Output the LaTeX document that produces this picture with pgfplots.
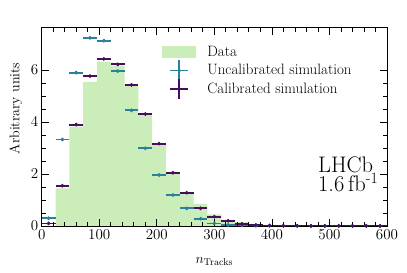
\RequirePackage{fix-cm}
\documentclass[border=0pt]{standalone}
\usepackage{pgfplots}
\pgfplotsset{compat=1.18}
\usepackage{pgfplotstable}

\definecolor{dgreen}{HTML}{CAEDB9}
\definecolor{uncal}{HTML}{2A819C}
\definecolor{cal}{HTML}{470D5E}

\pgfplotstableread{
x y
0 0.00
24 1.45
48 3.82
72 5.55
96 6.32
120 6.17
144 5.42
168 4.27
192 3.15
216 2.05
240 1.28
264 0.85
288 0.45
312 0.23
336 0.15
360 0.08
384 0.04
408 0.00
600 0.00
}\datatab

\pgfplotstableread{
x y ex ey
12 0.30 12 0.03
36 3.33 12 0.05
60 5.90 12 0.05
84 7.24 12 0.05
108 7.13 12 0.05
132 5.96 12 0.05
156 4.45 12 0.05
180 2.99 12 0.04
204 1.96 12 0.04
228 1.19 12 0.03
252 0.68 12 0.03
276 0.28 12 0.02
300 0.10 12 0.02
324 0.04 12 0.01
348 0.02 12 0.01
372 0.01 12 0.01
396 0.005 12 0.005
420 0.003 12 0.003
444 0.003 12 0.003
468 0.003 12 0.003
492 0.003 12 0.003
516 0.003 12 0.003
540 0.003 12 0.003
564 0.003 12 0.003
588 0.003 12 0.003
}\uncaltab

\pgfplotstableread{
x y ex ey
12 0.10 12 0.02
36 1.55 12 0.04
60 3.90 12 0.05
84 5.77 12 0.05
108 6.43 12 0.05
132 6.22 12 0.05
156 5.43 12 0.05
180 4.31 12 0.05
204 3.17 12 0.04
228 2.05 12 0.04
252 1.28 12 0.03
276 0.68 12 0.03
300 0.36 12 0.02
324 0.20 12 0.02
348 0.08 12 0.01
372 0.04 12 0.01
396 0.02 12 0.01
420 0.01 12 0.005
444 0.008 12 0.004
468 0.006 12 0.004
492 0.005 12 0.004
516 0.005 12 0.004
540 0.004 12 0.004
564 0.004 12 0.004
588 0.004 12 0.004
}\caltab

\begin{document}
\begin{tikzpicture}
\begin{axis}[
  scale only axis, width=345.3bp, height=198.3bp,
  at={(0,0)}, anchor=south west,
  xmin=0, xmax=600, ymin=0, ymax=7.63,
  xtick={0,100,...,600}, minor x tick num=4,
  ytick={0,2,4,6}, minor y tick num=3,
  tick align=inside, tick pos=both,
  major tick length=7bp, minor tick length=4bp,
  tick style={black, line width=0.8bp},
  axis line style={line width=0.9bp},
  axis on top,
  every tick label/.append style={font=\fontsize{15bp}{18bp}\selectfont},
  xlabel={$n_{\mathrm{Tracks}}$}, ylabel={Arbitrary units},
  label style={font=\fontsize{14bp}{16bp}\selectfont},
  xlabel style={at={(axis description cs:0.5,0)}, anchor=base, yshift=-37bp},
  ylabel style={at={(axis description cs:-0.075,0.593)}, anchor=center},
  legend style={at={(axis description cs:0.3475,0.915)}, anchor=north west,
    draw=none, fill=none, inner sep=0pt, row sep=3.5bp,
    font=\fontsize{15bp}{18bp}\selectfont,
    nodes={inner sep=1.5bp},
    /tikz/every odd column/.append style={column sep=10bp}},
  legend cell align=left,
]
\addplot[const plot, fill=dgreen, draw=none,
  legend image code/.code={\fill[dgreen] (0bp,-6.3bp) rectangle (34bp,6.3bp);}]
  table[x=x, y=y] {\datatab} \closedcycle;
\addlegendentry{Data}
\addplot[only marks, mark=*, mark size=1.7bp, color=uncal,
  legend image code/.code={
    \path[draw=none, fill=none] (0bp,-6.3bp) -- (34bp,6.3bp);
    \draw[uncal, line width=1.8bp] (8.3bp,0bp) -- (26.3bp,0bp);
    \draw[overlay, uncal, line width=1.8bp] (17.3bp,-10bp) -- (17.3bp,10bp);
    \fill[uncal] (17.3bp,0bp) circle (1.7bp);},
  error bars/.cd, x dir=both, x explicit, y dir=both, y explicit,
  error bar style={line width=1.8bp, color=uncal}, error mark=none]
  table[x=x, y=y, x error=ex, y error=ey] {\uncaltab};
\addlegendentry{Uncalibrated simulation}
\addplot[only marks, mark=*, mark size=1.7bp, color=cal,
  legend image code/.code={
    \path[draw=none, fill=none] (0bp,-6.3bp) -- (34bp,6.3bp);
    \draw[cal, line width=1.8bp] (8.3bp,0bp) -- (26.3bp,0bp);
    \draw[overlay, cal, line width=1.8bp] (17.3bp,-10bp) -- (17.3bp,10bp);
    \fill[cal] (17.3bp,0bp) circle (1.7bp);},
  error bars/.cd, x dir=both, x explicit, y dir=both, y explicit,
  error bar style={line width=1.8bp, color=cal}, error mark=none]
  table[x=x, y=y, x error=ex, y error=ey] {\caltab};
\addlegendentry{Calibrated simulation}
\node[anchor=north west, align=left, font=\fontsize{22.5bp}{19bp}\selectfont, inner sep=0pt]
  at (rel axis cs:0.800,0.35) {LHCb\\1.6\,fb\textsuperscript{-1}};
\node[anchor=base west, font=\fontsize{15bp}{18bp}\selectfont, inner sep=0pt]
  at (rel axis cs:0,1) [yshift=9.5bp] {$\times10^{-3}$};
\end{axis}
\pgfresetboundingbox
\path[use as bounding box] (-41.7bp,-47bp) rectangle (365.3bp,226bp);
\end{tikzpicture}
\end{document}
